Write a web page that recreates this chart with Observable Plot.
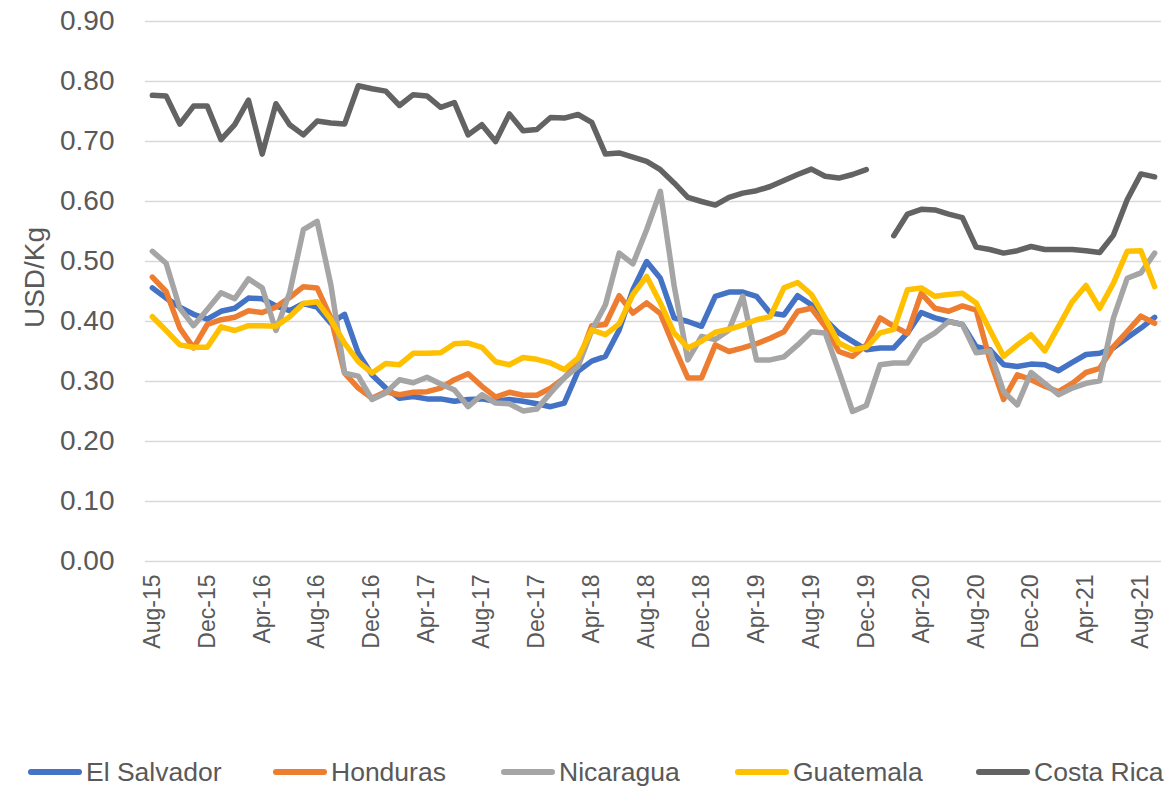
<!DOCTYPE html>
<html>
<head>
<meta charset="utf-8">
<script src="https://cdn.jsdelivr.net/npm/d3@7"></script>
<script src="https://cdn.jsdelivr.net/npm/@observablehq/plot@0.6"></script>
<style>
  html, body { margin: 0; padding: 0; background: #fff; }
  #wrap { position: relative; width: 1167px; height: 790px; font-family: "Liberation Sans", Arial, sans-serif; }
  #legend { position: absolute; left: 0; top: 700px; width: 1167px; height: 90px; }
  .item { position: absolute; top: 57px; height: 30px; display: flex; align-items: center; color: #595959; font-size: 26.5px; white-space: nowrap; }
  .swatch { display: inline-block; width: 54px; height: 6px; border-radius: 3px; margin-right: 4px; }
</style>
</head>
<body>
<div id="wrap"><div id="chart"></div><div id="legend"></div></div>
<script>
// Months Aug-15 .. Sep-21
const months = ["Aug-15","Sep-15","Oct-15","Nov-15","Dec-15","Jan-16","Feb-16","Mar-16","Apr-16","May-16","Jun-16","Jul-16",
  "Aug-16","Sep-16","Oct-16","Nov-16","Dec-16","Jan-17","Feb-17","Mar-17","Apr-17","May-17","Jun-17","Jul-17",
  "Aug-17","Sep-17","Oct-17","Nov-17","Dec-17","Jan-18","Feb-18","Mar-18","Apr-18","May-18","Jun-18","Jul-18",
  "Aug-18","Sep-18","Oct-18","Nov-18","Dec-18","Jan-19","Feb-19","Mar-19","Apr-19","May-19","Jun-19","Jul-19",
  "Aug-19","Sep-19","Oct-19","Nov-19","Dec-19","Jan-20","Feb-20","Mar-20","Apr-20","May-20","Jun-20","Jul-20",
  "Aug-20","Sep-20","Oct-20","Nov-20","Dec-20","Jan-21","Feb-21","Mar-21","Apr-21","May-21","Jun-21","Jul-21",
  "Aug-21","Sep-21"];

const tickLabels = ["Aug-15","Dec-15","Apr-16","Aug-16","Dec-16","Apr-17","Aug-17","Dec-17","Apr-18","Aug-18",
  "Dec-18","Apr-19","Aug-19","Dec-19","Apr-20","Aug-20","Dec-20","Apr-21","Aug-21"];

const yTicks = [0, 0.1, 0.2, 0.3, 0.4, 0.5, 0.6, 0.7, 0.8, 0.9];

const seriesNames = ["El Salvador", "Honduras", "Nicaragua", "Guatemala", "Costa Rica"];
const seriesColors = ["#4472c4", "#ed7d31", "#a5a5a5", "#ffc000", "#636363"];

const elSalvador = [0.456,0.439,0.424,0.412,0.404,0.417,0.422,0.439,0.438,0.426,0.418,0.430,0.424,0.397,0.412,0.347,0.311,0.289,0.272,
  0.275,0.271,0.271,0.267,0.270,0.271,0.267,0.270,0.267,0.263,0.258,0.264,0.317,0.334,0.342,0.386,0.453,0.500,
  0.472,0.406,0.400,0.392,0.442,0.449,0.449,0.442,0.414,0.411,0.443,0.428,0.403,0.381,0.367,0.353,0.356,0.356,
  0.381,0.415,0.406,0.400,0.395,0.358,0.353,0.328,0.325,0.329,0.328,0.318,0.332,0.345,0.347,0.356,0.373,0.389,0.407];

const honduras = [0.474,0.450,0.389,0.356,0.395,0.403,0.407,0.418,0.415,0.424,0.440,0.458,0.456,0.406,0.314,0.289,0.272,0.283,0.278,
  0.282,0.283,0.289,0.303,0.313,0.292,0.274,0.282,0.277,0.277,0.289,0.306,0.331,0.393,0.395,0.443,0.414,0.431,
  0.413,0.358,0.306,0.306,0.361,0.350,0.356,0.363,0.372,0.383,0.417,0.422,0.392,0.350,0.342,0.361,0.406,0.392,
  0.380,0.447,0.422,0.417,0.426,0.419,0.336,0.270,0.311,0.303,0.292,0.283,0.297,0.315,0.322,0.358,0.383,0.409,0.397];

const nicaragua = [0.517,0.497,0.422,0.393,0.420,0.448,0.438,0.471,0.456,0.385,0.448,0.553,0.567,0.461,0.314,0.309,0.270,0.281,0.303,
  0.298,0.307,0.296,0.286,0.258,0.278,0.264,0.263,0.251,0.254,0.281,0.306,0.325,0.385,0.428,0.514,0.496,0.553,
  0.617,0.460,0.336,0.375,0.370,0.386,0.442,0.336,0.336,0.341,0.361,0.383,0.381,0.317,0.250,0.260,0.328,0.331,
  0.331,0.367,0.381,0.400,0.395,0.348,0.351,0.283,0.261,0.315,0.297,0.278,0.289,0.297,0.301,0.406,0.472,0.481,0.514];

const guatemala = [0.408,0.385,0.361,0.357,0.357,0.391,0.385,0.393,0.393,0.392,0.408,0.430,0.433,0.403,0.364,0.333,0.314,0.330,0.328,
  0.347,0.347,0.348,0.363,0.364,0.357,0.333,0.328,0.340,0.337,0.331,0.320,0.339,0.386,0.378,0.396,0.445,0.475,
  0.431,0.381,0.356,0.367,0.382,0.387,0.394,0.403,0.408,0.456,0.465,0.445,0.406,0.364,0.353,0.357,0.381,0.387,
  0.453,0.456,0.442,0.445,0.447,0.431,0.386,0.342,0.361,0.378,0.351,0.392,0.433,0.460,0.422,0.464,0.517,0.518,0.458];

const costaRica = [0.777,0.776,0.729,0.759,0.759,0.703,0.728,0.769,0.679,0.763,0.728,0.711,0.734,0.731,0.729,0.793,0.788,0.784,0.760,
  0.778,0.776,0.757,0.765,0.711,0.728,0.700,0.746,0.718,0.720,0.740,0.739,0.745,0.732,0.679,0.681,0.674,0.667,
  0.653,0.631,0.607,0.600,0.594,0.607,0.614,0.618,0.625,0.635,0.645,0.654,0.642,0.639,0.645,0.653,null,0.543,
  0.579,0.587,0.586,0.579,0.573,0.524,0.520,0.514,0.518,0.525,0.520,0.520,0.520,0.518,0.515,0.544,0.603,0.646,0.641];

const seriesValues = [elSalvador, honduras, nicaragua, guatemala, costaRica];

const data = [];
seriesNames.forEach((name, s) => {
  seriesValues[s].forEach((v, i) => data.push({series: name, month: months[i], value: v}));
});

const chart = Plot.plot({
  width: 1167,
  height: 700,
  marginLeft: 145,
  marginRight: 6,
  marginTop: 21,
  marginBottom: 139,
  style: {fontFamily: "Liberation Sans, Arial, sans-serif", color: "#595959", background: "#fff"},
  x: {type: "point", domain: months, padding: 0.5},
  y: {domain: [0, 0.9]},
  color: {domain: seriesNames, range: seriesColors},
  marks: [
    Plot.gridY(yTicks, {stroke: "#d9d9d9", strokeOpacity: 1, strokeWidth: 1.5}),
    Plot.axisY(yTicks, {tickFormat: d3.format(".2f"), tickSize: 0, tickPadding: 31, fontSize: 28, label: null, fill: "#595959"}),
    Plot.axisX(tickLabels, {tickRotate: -90, tickSize: 0, tickPadding: 13, fontSize: 23, label: null, fill: "#595959"}),
    Plot.text(["USD/Kg"], {frameAnchor: "left", textAnchor: "middle", rotate: -90, dx: -110, dy: -14, fontSize: 28, fill: "#595959"}),
    ...seriesNames.map(name => Plot.line(data.filter(d => d.series === name), {
      x: "month", y: "value", stroke: "series", strokeWidth: 5.5,
      strokeLinejoin: "round", strokeLinecap: "round"
    }))
  ]
});
document.getElementById("chart").appendChild(chart);

// Legend
const legendLeft = [28, 273, 501, 735, 976];
const legend = document.getElementById("legend");
seriesNames.forEach((name, i) => {
  const item = document.createElement("div");
  item.className = "item";
  item.style.left = legendLeft[i] + "px";
  const sw = document.createElement("span");
  sw.className = "swatch";
  sw.style.background = seriesColors[i];
  item.appendChild(sw);
  item.appendChild(document.createTextNode(name));
  legend.appendChild(item);
});
</script>
</body>
</html>
